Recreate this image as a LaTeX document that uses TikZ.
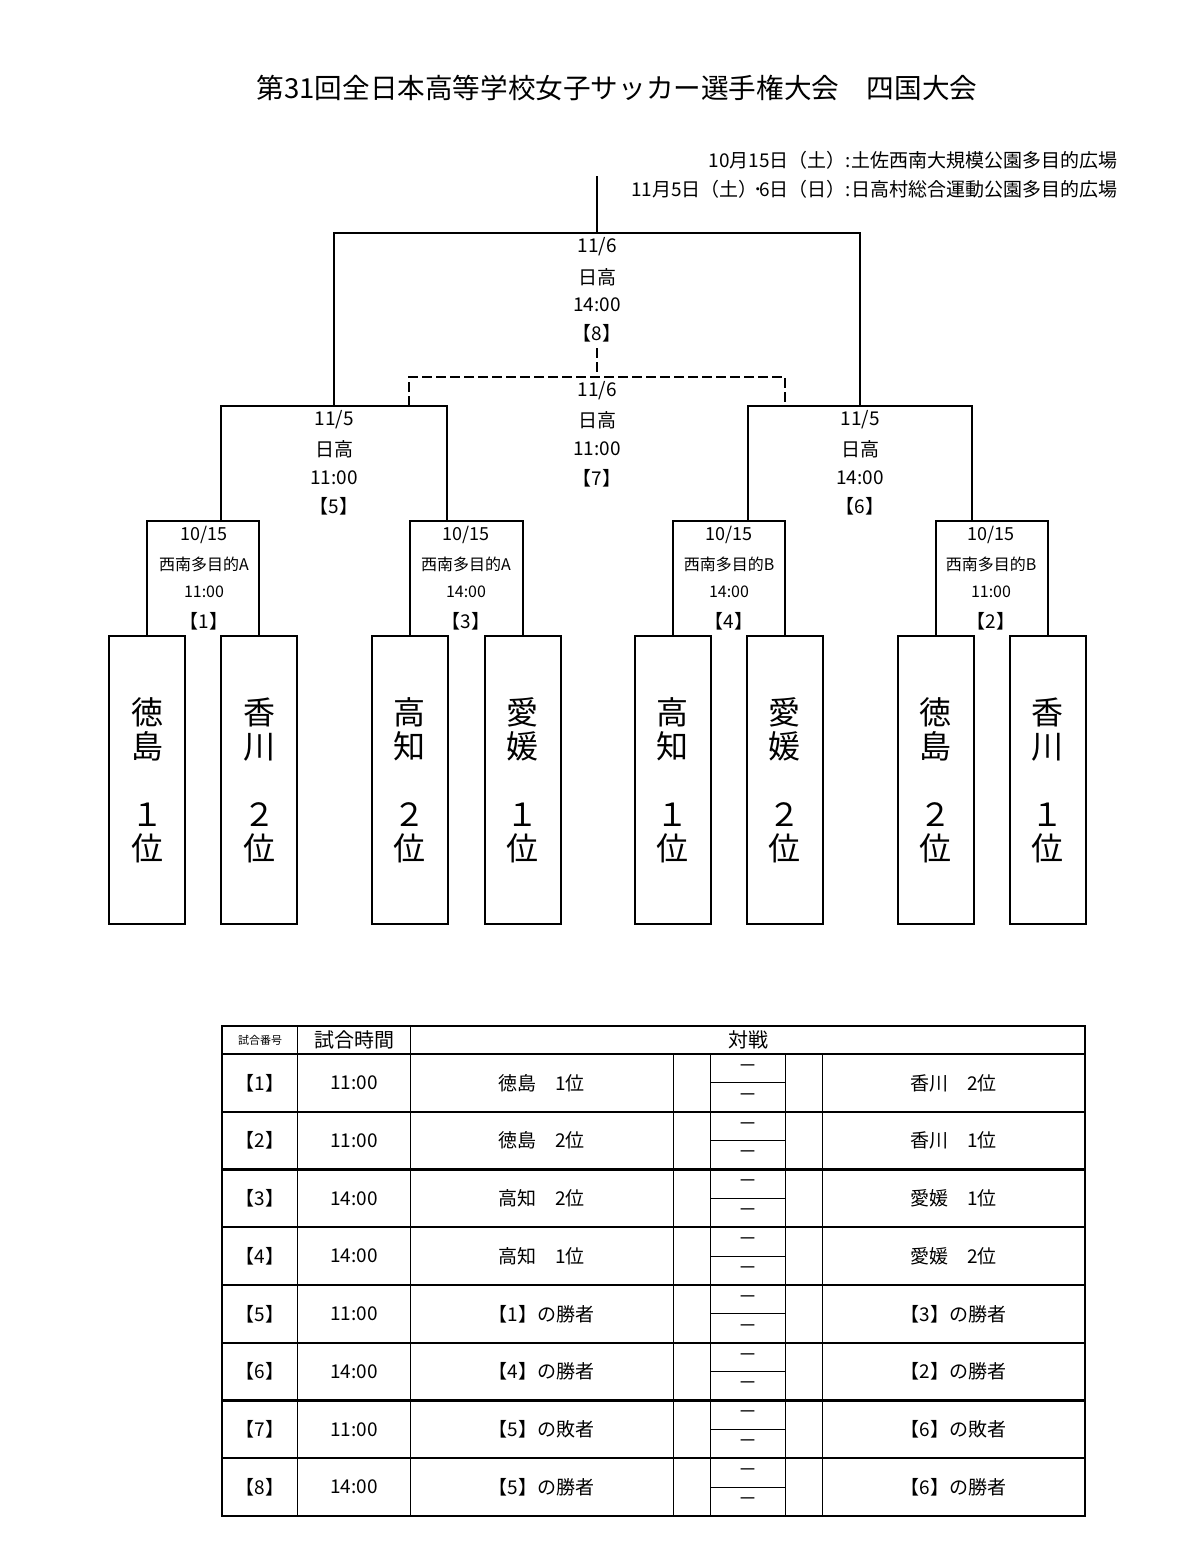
\documentclass[tikz,border=0pt]{standalone}
\usepackage{fontspec}
\setmainfont{Noto Sans CJK JP}
\begin{document}
\begin{tikzpicture}[x=0.5pt,y=-0.5pt,line width=1pt,
  team/.style={draw,line width=1pt,minimum width=38pt,minimum height=144pt,inner sep=0pt,align=center,font=\fontsize{16}{17}\selectfont},
  lbl/.style={inner sep=0pt,font=\fontsize{9.5}{10}\selectfont},
  slbl/.style={inner sep=0pt,font=\fontsize{8}{9}\selectfont},
  tcell/.style={inner sep=0pt,font=\fontsize{9.5}{10}\selectfont},
  thin/.style={line width=0.5pt},
  rowline/.style={line width=1.1pt}]
\useasboundingbox (0,0) rectangle (1200,1568);
% title
\node[inner sep=0pt,font=\fontsize{13.8}{14}\selectfont] (title) at (617,88) {第31回全日本高等学校女子サッカー選手権大会　四国大会};
\node[inner sep=0pt,anchor=east,font=\fontsize{9.5}{10}\selectfont] (v1) at (1118,160) {10月15日（土）:土佐西南大規模公園多目的広場};
\node[inner sep=0pt,anchor=east,font=\fontsize{9.5}{10}\selectfont] (v2) at (1118,189) {11月5日（土）\kern-2pt･\kern-2pt6日（日）:日高村総合運動公園多目的広場};
% teams
\node[team] (t1) at (147,780) {徳\\島\\ \\１\\位};
\node[team] (t2) at (259,780) {香\\川\\ \\２\\位};
\node[team] (t3) at (409.5,780) {高\\知\\ \\２\\位};
\node[team] (t4) at (522.5,780) {愛\\媛\\ \\１\\位};
\node[team] (t5) at (672.5,780) {高\\知\\ \\１\\位};
\node[team] (t6) at (784.5,780) {愛\\媛\\ \\２\\位};
\node[team] (t7) at (935.5,780) {徳\\島\\ \\２\\位};
\node[team] (t8) at (1047.5,780) {香\\川\\ \\１\\位};
% round 1 boxes
\draw (t1.north) -- (147,521) -- (259,521) -- (t2.north);
\draw (t3.north) -- (409.5,521) -- (522.5,521) -- (t4.north);
\draw (t5.north) -- (672.5,521) -- (784.5,521) -- (t6.north);
\draw (t7.north) -- (935.5,521) -- (1047.5,521) -- (t8.north);
% round 2 boxes
\coordinate (m1) at (221,521);
\coordinate (m3) at (447,521);
\coordinate (m4) at (748,521);
\coordinate (m2) at (972,521);
\draw (m1) -- (221,406) -- (447,406) -- (m3);
\draw (m4) -- (748,406) -- (972,406) -- (m2);
% final
\coordinate (s5) at (334,406);
\coordinate (s6) at (860,406);
\coordinate (top) at (597,176);
\draw (s5) -- (334,233) -- (860,233) -- (s6);
\draw (top) -- (597,233);
% third place (dashed)
\coordinate (d5) at (409,406);
\coordinate (d6) at (785,406);
\draw[dashed,dash pattern=on 5pt off 2pt] (d5) -- (409,377) -- (785,377) -- (d6);
\draw[dashed,dash pattern=on 5pt off 2pt] (597,348) -- (597,377);
% labels final
\node[lbl] (f8a) at (597,247) {11/6};
\node[lbl] (f8b) at (597,277) {日高};
\node[lbl] (f8c) at (597,305) {14:00};
\node[lbl] (f8d) at (597,333) {【8】};
\node[lbl] (f7a) at (597,391) {11/6};
\node[lbl] (f7b) at (597,420) {日高};
\node[lbl] (f7c) at (597,449) {11:00};
\node[lbl] (f7d) at (597,478) {【7】};
\node[lbl] (f5a) at (334,420) {11/5};
\node[lbl] (f5b) at (334,449) {日高};
\node[lbl] (f5c) at (334,478) {11:00};
\node[lbl] (f5d) at (334,506) {【5】};
\node[lbl] (f6a) at (860,420) {11/5};
\node[lbl] (f6b) at (860,449) {日高};
\node[lbl] (f6c) at (860,478) {14:00};
\node[lbl] (f6d) at (860,506) {【6】};
% round 1 labels
\foreach \n/\x/\p/\t in {1/204/A/11:00,3/466/A/14:00,4/729/B/14:00,2/991/B/11:00}{
  \node[slbl,font=\fontsize{9}{10}\selectfont] (r\n a) at (\x,535) {10/15};
  \node[slbl] (r\n b) at (\x,564) {西南多目的\p};
  \node[slbl] (r\n c) at (\x,592) {\t};
  \node[lbl] (r\n d) at (\x,621) {【\n】};
}
% table
\draw[line width=1.1pt] (222,1026) rectangle (1085,1516);
\draw[thin] (297,1026) -- (297,1516);
\draw[thin] (410,1026) -- (410,1516);
\draw[rowline] (222,1054) -- (1085,1054);
\foreach \xx in {673,710,785,822}{\draw[thin] (\xx,1054) -- (\xx,1516);}
\node[inner sep=0pt,font=\fontsize{5.5}{6}\selectfont] (h1) at (260,1040) {試合番号};
\node[inner sep=0pt,font=\fontsize{10}{11}\selectfont] (h2) at (354,1040) {試合時間};
\node[inner sep=0pt,font=\fontsize{10}{11}\selectfont] (h3) at (748,1040) {対戦};
\foreach \i/\t/\a/\b in {1/11:00/徳島　1位/香川　2位,2/11:00/徳島　2位/香川　1位,3/14:00/高知　2位/愛媛　1位,4/14:00/高知　1位/愛媛　2位,5/11:00/【1】の勝者/【3】の勝者,6/14:00/【4】の勝者/【2】の勝者,7/11:00/【5】の敗者/【6】の敗者,8/14:00/【5】の勝者/【6】の勝者}{
  \pgfmathsetmacro\yt{1054+(\i-1)*57.75}
  \pgfmathsetmacro\yc{\yt+28.9}
  \pgfmathsetmacro\yb{\yt+57.75}
  \draw[rowline] (222,\yb) -- (1085,\yb);
  \draw[thin] (710,\yc) -- (785,\yc);
  \node[tcell] (c\i a) at (260,\yc) {【\i】};
  \node[tcell] (c\i b) at (354,\yc) {\t};
  \node[tcell] (c\i c) at (541.5,\yc) {\a};
  \node[tcell] (c\i d) at (953.5,\yc) {\b};
  \node[tcell] (c\i e) at (747.5,\yt+14.5) {－};
  \node[tcell] (c\i f) at (747.5,\yt+43.3) {－};
}
\end{tikzpicture}
\end{document}
